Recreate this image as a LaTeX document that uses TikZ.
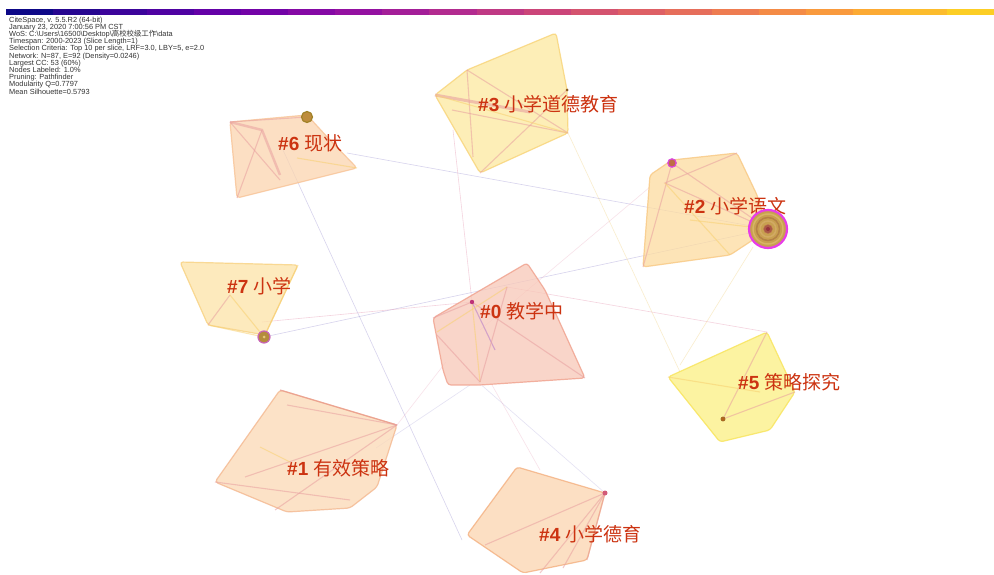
\documentclass[tikz,border=0pt]{standalone}
\usepackage{fontspec}
\setmainfont{Liberation Sans}
\newfontfamily\cjk{Noto Sans CJK SC}
\usetikzlibrary{calc}
\definecolor{lblred}{HTML}{CC3311}
\definecolor{metagray}{HTML}{333333}
\definecolor{lav}{HTML}{A8A0D8}
\definecolor{pinkl}{HTML}{E8A0B8}
\definecolor{yell}{HTML}{F4D890}
\definecolor{innerp}{HTML}{E8A0A0}
\definecolor{innery}{HTML}{F8D070}
\definecolor{innerv}{HTML}{B478C8}
\definecolor{c0}{HTML}{0D0887}\definecolor{c1}{HTML}{260690}\definecolor{c2}{HTML}{3C049B}
\definecolor{c3}{HTML}{4F02A2}\definecolor{c4}{HTML}{6401A7}\definecolor{c5}{HTML}{7303A7}
\definecolor{c6}{HTML}{8509A5}\definecolor{c7}{HTML}{9411A1}\definecolor{c8}{HTML}{A31E98}
\definecolor{c9}{HTML}{B22B8F}\definecolor{c10}{HTML}{BF3984}\definecolor{c11}{HTML}{CB4579}
\definecolor{c12}{HTML}{D4536F}\definecolor{c13}{HTML}{DE6065}\definecolor{c14}{HTML}{E66E5B}
\definecolor{c15}{HTML}{EE7C51}\definecolor{c16}{HTML}{F48B46}\definecolor{c17}{HTML}{F99A3D}
\definecolor{c18}{HTML}{FCAA34}\definecolor{c19}{HTML}{FCBC2D}\definecolor{c20}{HTML}{FCCE25}
% hull colours
\definecolor{f3}{HTML}{FDE9A0}\definecolor{d3}{HTML}{F8D478}
\definecolor{f2}{HTML}{FDDCA0}\definecolor{d2}{HTML}{F8C882}
\definecolor{f6}{HTML}{FBD5B0}\definecolor{d6}{HTML}{F8C396}
\definecolor{f7}{HTML}{FDE3A8}\definecolor{d7}{HTML}{F8D282}
\definecolor{f0}{HTML}{F8C8B8}\definecolor{d0}{HTML}{F0A08C}
\definecolor{f5}{HTML}{FCF082}\definecolor{d5}{HTML}{F8E45A}
\definecolor{f1}{HTML}{FCD9B5}\definecolor{d1}{HTML}{F4B890}\definecolor{t1}{HTML}{E8968C}
\definecolor{f4}{HTML}{FCD5B0}\definecolor{d4}{HTML}{F4B080}
% node colours
\definecolor{nbrown}{HTML}{8A5A1E}
\definecolor{ngold}{HTML}{C8A050}\definecolor{nmag}{HTML}{E83CE8}
\definecolor{r1}{HTML}{D7B464}\definecolor{r2}{HTML}{B48246}\definecolor{r3}{HTML}{D2AA64}
\definecolor{r4}{HTML}{AA5A46}\definecolor{r4d}{HTML}{BE7850}\definecolor{r5}{HTML}{96323C}
\definecolor{nb2}{HTML}{BE6E46}\definecolor{nm2}{HTML}{DC46DC}
\definecolor{n6f}{HTML}{BE8C3C}\definecolor{n6d}{HTML}{A08228}
\definecolor{n7f}{HTML}{B48C3C}\definecolor{n7d}{HTML}{C864B4}\definecolor{n7c}{HTML}{E6C878}
\definecolor{n0f}{HTML}{BE3278}
\definecolor{n5f}{HTML}{B4641E}\definecolor{n5d}{HTML}{966E28}
\definecolor{n4f}{HTML}{D25A78}
\tikzset{
  hull/.style={rounded corners=3pt, line width=1.2pt, fill opacity=0.75, draw opacity=0.8},
  inner/.style={line width=1.1pt, draw opacity=0.55},
  link/.style={line width=0.6pt, draw opacity=0.45},
  clabel/.style={text=lblred, anchor=west, inner sep=0pt, font=\fontsize{19}{19}\selectfont},
  meta/.style={text=metagray, anchor=north west, inner sep=0pt, align=left, font=\fontsize{7.4}{7.2}\selectfont}
}
\begin{document}
\begin{tikzpicture}[x=1pt,y=-1pt]
\useasboundingbox (0,0) rectangle (994,575);
\fill[white] (0,0) rectangle (994,575);
% colour bar
\foreach \i in {0,...,20}{
  \fill[c\i] ({6+\i*47.05},9) rectangle ({6+(\i+1)*47.05},15);
}
% metadata
\node[meta] (meta) at (9,16.5) {CiteSpace, v. 5.5.R2 (64-bit)\\
January 23, 2020 7:00:56 PM CST\\
WoS: C:\textbackslash Users\textbackslash 16500\textbackslash Desktop\textbackslash\smash{\cjk 高校校级工作}\textbackslash data\\
Timespan: 2000-2023 (Slice Length=1)\\
Selection Criteria: Top 10 per slice, LRF=3.0, LBY=5, e=2.0\\
Network: N=87, E=92 (Density=0.0246)\\
Largest CC: 53 (60\%)\\
Nodes Labeled: 1.0\%\\
Pruning: Pathfinder\\
Modularity Q=0.7797\\
Mean Silhouette=0.5793};

% key coordinates
\coordinate (n2) at (768,229);
\coordinate (n2b) at (672,163);
\coordinate (n6) at (307,117);
\coordinate (n7) at (264,337);
\coordinate (n0) at (472,302);
\coordinate (n5) at (723,419);
\coordinate (n4) at (605,493);
\coordinate (n3) at (567,90);

% inter-cluster links
\draw[link,lav] (347,153) -- (n2);
\draw[link,lav] (n7) -- (n2);
\draw[link,lav] (283,150) -- (462,540);
\draw[link,pinkl] (453,130) -- (n0);
\draw[link,yell] (568,133) -- (680,372);
\draw[link,pinkl] (507,287) -- (767,332);
\draw[link,pinkl,draw opacity=0.3] (480,330) -- (650,187);
\draw[link,yell] (753,247) -- (680,365);
\draw[link,pinkl] (262,322) -- (n0);
\draw[link,lav,draw opacity=0.3] (478,382) -- (n4);
\draw[link,pinkl,draw opacity=0.3] (492,385) -- (540,470);
\draw[link,pinkl,draw opacity=0.3] (446,362) -- (397,425);
\draw[link,lav,draw opacity=0.3] (470,385) -- (376,448);

% cluster #3
\filldraw[hull, fill=f3, draw=d3]
  (435,95) -- (467,70) -- (556,33) -- (567,90) -- (568,133) -- (480,173) -- cycle;
\draw[innerp, line width=3pt, draw opacity=0.6] (435,95) -- (530,112);
\draw[inner,innerp] (467,70) -- (473,157);
\draw[inner,innerp] (467,70) -- (568,133);
\draw[inner,innerp] (452,110) -- (568,133);
\draw[inner,innerp] (480,173) -- (567,90);
\draw[inner,innery] (435,95) -- (568,133);
\fill[nbrown] (n3) circle (1.5);
\node[clabel] (l3) at (478,104) {\textbf{\#3} {\cjk 小学道德教育}};

% cluster #2
\filldraw[hull, fill=f2, draw=d2]
  (650,175) -- (672,160) -- (737,153) -- (757,195) -- (768,230) -- (730,255) -- (643,267) -- cycle;
\draw[inner,innerp] (n2b) -- (n2);
\draw[inner,innerp] (737,153) -- (665,183) -- (n2);
\draw[inner,innerp] (n2b) -- (643,267);
\draw[inner,innery] (690,220) -- (n2);
\draw[inner,innery] (665,183) -- (730,255);
\filldraw[fill=nb2, draw=nm2, line width=1.2pt] (n2b) circle (4.2);
\node[clabel] (l2) at (684,206) {\textbf{\#2} {\cjk 小学语文}};
\filldraw[fill=ngold, draw=nmag, line width=2.2pt] (n2) circle (19);
\draw[r1, line width=1.5pt] (n2) circle (15);
\draw[r2, line width=1.5pt] (n2) circle (11.5);
\draw[r3, line width=1.5pt] (n2) circle (8);
\filldraw[fill=r4, draw=r4d] (n2) circle (4.5);
\fill[r5] (n2) circle (2);

% cluster #6
\filldraw[hull, fill=f6, draw=d6]
  (230,122) -- (307,115) -- (330,140) -- (357,168) -- (237,198) -- cycle;
\draw[inner,innerp,line width=2.5pt] (230,122) -- (262,130) -- (280,175);
\draw[inner,innerp] (262,130) -- (237,198);
\draw[inner,innerp] (230,122) -- (280,180);
\draw[inner,innerp] (230,122) -- (n6);
\draw[inner,innery] (297,158) -- (357,168);
\filldraw[fill=n6f, draw=n6d, line width=1.2pt] (n6) circle (5.5);
\node[clabel] (l6) at (278,143) {\textbf{\#6} {\cjk 现状}};

% cluster #7
\filldraw[hull, fill=f7, draw=d7]
  (180,262) -- (298,265) -- (265,335) -- (208,325) -- cycle;
\draw[inner,innerp] (208,325) -- (230,295);
\draw[inner,innery] (230,295) -- (n7);
\draw[inner,innery] (n7) -- (298,265);
\draw[inner,innery] (208,325) -- (n7);
\filldraw[fill=n7f, draw=n7d, line width=1.2pt] (n7) circle (6);
\fill[n7c] (n7) circle (1.5);
\node[clabel] (l7) at (227,286) {\textbf{\#7} {\cjk 小学}};

% cluster #0
\filldraw[hull, fill=f0, draw=d0]
  (433,318) -- (527,263) -- (545,290) -- (585,378) -- (480,385) -- (448,385) -- (443,370) -- cycle;
\draw[inner,innery] (n0) -- (480,382);
\draw[inner,innerv] (n0) -- (495,350);
\draw[inner,innerp] (n0) -- (585,378);
\draw[inner,innery] (437,332) -- (507,287);
\draw[inner,innerp] (433,318) -- (n0);
\draw[inner,innerp] (480,382) -- (507,287);
\draw[inner,innerp] (437,335) -- (480,382);
\fill[n0f] (n0) circle (2.2);
\node[clabel] (l0) at (480,311) {\textbf{\#0} {\cjk 教学中}};

% cluster #5
\filldraw[hull, fill=f5, draw=d5]
  (668,377) -- (767,332) -- (795,392) -- (770,430) -- (720,442) -- cycle;
\draw[inner,innerp] (n5) -- (767,332);
\draw[inner,innerp] (n5) -- (795,392);
\draw[inner,innery] (668,377) -- (760,392);
\filldraw[fill=n5f, draw=n5d] (n5) circle (2.2);
\node[clabel] (l5) at (738,382) {\textbf{\#5} {\cjk 策略探究}};

% cluster #1
\filldraw[hull, fill=f1, draw=d1]
  (280,390) -- (397,425) -- (377,487) -- (350,508) -- (287,512) -- (215,482) -- cycle;
\draw[t1, line width=1.2pt, draw opacity=0.7] (280,390) -- (397,425);
\draw[inner,innerp] (287,405) -- (397,425);
\draw[inner,innerp] (397,425) -- (245,477);
\draw[inner,innery] (260,447) -- (290,462);
\draw[inner,innerp] (397,425) -- (275,510);
\draw[inner,innerp] (215,482) -- (350,500);
\node[clabel] (l1) at (287,468) {\textbf{\#1} {\cjk 有效策略}};

% cluster #4
\filldraw[hull, fill=f4, draw=d4]
  (517,467) -- (605,493) -- (587,560) -- (523,573) -- (467,535) -- cycle;
\draw[inner,innerp] (n4) -- (485,545);
\draw[inner,innerp] (n4) -- (540,573);
\draw[inner,innerp] (n4) -- (563,568);
\draw[inner,innerp] (n4) -- (587,560);
\fill[n4f] (n4) circle (2.5);
\node[clabel] (l4) at (539,534) {\textbf{\#4} {\cjk 小学德育}};
\end{tikzpicture}
\end{document}
